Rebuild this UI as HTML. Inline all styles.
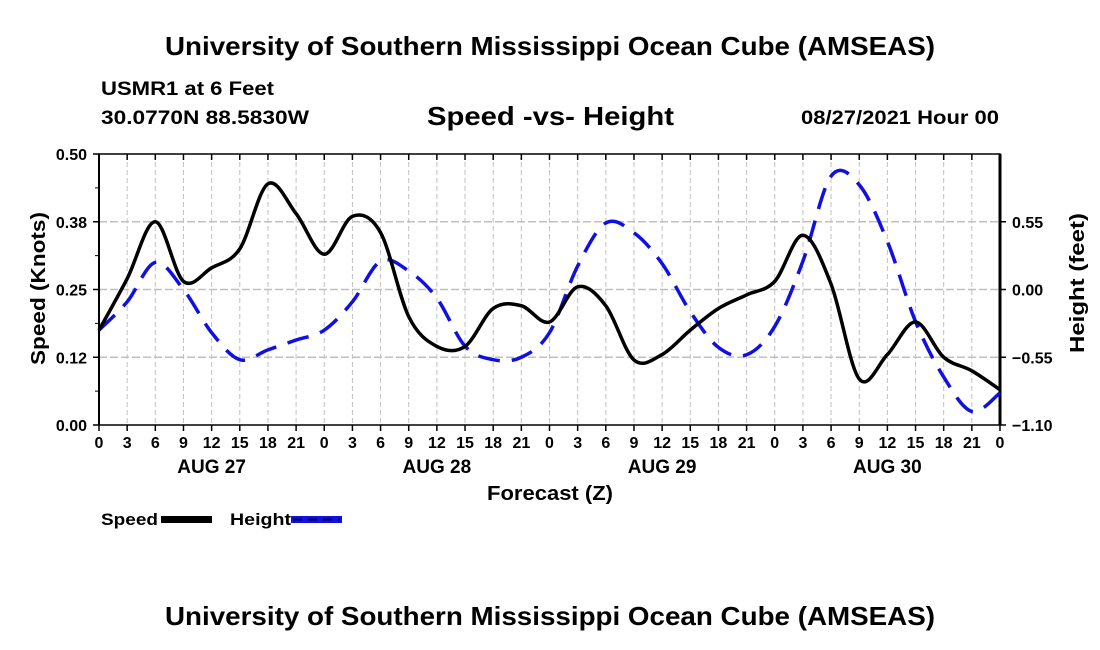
<!DOCTYPE html>
<html><head><meta charset="utf-8"><style>
body{margin:0;background:#fff;}
svg{display:block;font-family:"Liberation Sans",sans-serif;font-weight:bold;}
</style></head><body>
<svg id="c" width="1100" height="650" viewBox="0 0 1100 650">
<text x="165" y="55" font-size="26" textLength="770" lengthAdjust="spacingAndGlyphs">University of Southern Mississippi Ocean Cube (AMSEAS)</text>
<text x="101" y="95" font-size="19" textLength="173" lengthAdjust="spacingAndGlyphs">USMR1 at 6 Feet</text>
<text x="101" y="124" font-size="19" textLength="208" lengthAdjust="spacingAndGlyphs">30.0770N  88.5830W</text>
<text x="427" y="125" font-size="26" textLength="247" lengthAdjust="spacingAndGlyphs">Speed -vs- Height</text>
<text x="801" y="124" font-size="19" textLength="198" lengthAdjust="spacingAndGlyphs">08/27/2021 Hour 00</text>
<g id="grid"></g>
<g id="axes"></g>
<g id="series"></g>
<text x="487" y="500" font-size="20" textLength="126" lengthAdjust="spacingAndGlyphs">Forecast (Z)</text>
<text transform="translate(45,365) rotate(-90)" font-size="20" textLength="153" lengthAdjust="spacingAndGlyphs">Speed (Knots)</text>
<text transform="translate(1084,353) rotate(-90)" font-size="20" textLength="140" lengthAdjust="spacingAndGlyphs">Height (feet)</text>
<g>
<text x="101" y="525" font-size="17" textLength="57" lengthAdjust="spacingAndGlyphs">Speed</text>
<rect x="161" y="516" width="51" height="7" fill="#000"/>
<text x="230" y="525" font-size="17" textLength="61" lengthAdjust="spacingAndGlyphs">Height</text>
<rect x="291" y="516" width="51" height="7" fill="#1010e0"/>
<line x1="293" y1="519.5" x2="340" y2="519.5" stroke="#000050" stroke-width="2" stroke-dasharray="9,6"/>
</g>
<text x="165" y="625" font-size="26" textLength="770" lengthAdjust="spacingAndGlyphs">University of Southern Mississippi Ocean Cube (AMSEAS)</text>
</svg>
<script>
const hours=[0,3,6,9,12,15,18,21,24,27,30,33,36,39,42,45,48,51,54,57,60,63,66,69,72,75,78,81,84,87,90,93,96];
const speed=[0.175,0.27,0.375,0.265,0.29,0.325,0.445,0.39,0.315,0.385,0.355,0.20,0.145,0.145,0.215,0.22,0.19,0.255,0.22,0.12,0.13,0.175,0.215,0.24,0.265,0.35,0.26,0.085,0.13,0.19,0.125,0.10,0.065];
const height=[-0.33,-0.10,0.22,0.0,-0.35,-0.57,-0.49,-0.41,-0.33,-0.10,0.23,0.15,-0.07,-0.46,-0.57,-0.55,-0.35,0.19,0.54,0.46,0.21,-0.18,-0.47,-0.53,-0.30,0.23,0.92,0.85,0.39,-0.26,-0.71,-0.99,-0.84];
const xTickLabels=["0","3","6","9","12","15","18","21","0","3","6","9","12","15","18","21","0","3","6","9","12","15","18","21","0","3","6","9","12","15","18","21","0"];
const dayLabels=["AUG 27","AUG 28","AUG 29","AUG 30"];
const speedTicks=[0,0.125,0.25,0.375,0.5];
const speedTickLabels=["0.00","0.12","0.25","0.38","0.50"];
const heightTicks=[-1.1,-0.55,0,0.55];
const heightTickLabels=["\u22121.10","\u22120.55","0.00","0.55"];
const X0=99,X1=1000,Y0=425,Y1=154;
const xs=h=>X0+(X1-X0)*h/96;
const ys=v=>Y0-(Y0-Y1)*v/0.5;
const yh=v=>Y0-(Y0-Y1)*(v+1.1)/2.2;
const NS='http://www.w3.org/2000/svg';
function mk(p,t,a){const e=document.createElementNS(NS,t);for(const k in a)e.setAttribute(k,a[k]);p.appendChild(e);return e;}
const grid=document.getElementById('grid'),axes=document.getElementById('axes'),ser=document.getElementById('series');
hours.forEach((h,i)=>{
 const g=mk(grid,'line',{x1:xs(h),x2:xs(h),y1:Y1,y2:Y0,stroke:'#c0c0c0','stroke-width':1,'stroke-dasharray':'5,3'});
 
 
 const t=mk(axes,'line',{x1:xs(h),x2:xs(h),y1:Y0,y2:Y0+6,stroke:'#000','stroke-width':1.5});
 
 
 const t2=mk(axes,'line',{x1:xs(h),x2:xs(h),y1:Y1,y2:Y1+6,stroke:'#000','stroke-width':1.5});
 
 
 const l=mk(axes,'text',{x:xs(h),y:Y0+23,'font-size':16,'text-anchor':'middle'});l.textContent=xTickLabels[i];
 
 
});
dayLabels.forEach((d,i)=>{
 const l=mk(axes,'text',{x:xs(12+24*i),y:Y0+48,'font-size':19,'text-anchor':'middle'});l.textContent=d;
 
 
});
speedTicks.forEach((v,i)=>{
 if(i>0&&i<4){const g=mk(grid,'line',{x1:X0,x2:X1,y1:ys(v),y2:ys(v),stroke:'#c0c0c0','stroke-width':1.5,'stroke-dasharray':'8,3'});
 
 }
 const t=mk(axes,'line',{x1:X0-6,x2:X0,y1:ys(v),y2:ys(v),stroke:'#000','stroke-width':1.5});
 
 
 const l=mk(axes,'text',{x:X0-12,y:ys(v)+6,'font-size':16,'text-anchor':'end'});l.textContent=speedTickLabels[i];
 
 
 if(i<4){const m=mk(axes,'line',{x1:X0-4,x2:X0,y1:ys(v+0.0625),y2:ys(v+0.0625),stroke:'#000','stroke-width':1});
 
 }
});
heightTicks.forEach((v,i)=>{
 const t=mk(axes,'line',{x1:X1,x2:X1+6,y1:yh(v),y2:yh(v),stroke:'#000','stroke-width':1.5});
 
 
 const l=mk(axes,'text',{x:X1+12,y:yh(v)+6,'font-size':16});l.textContent=heightTickLabels[i];
 
 
});
const frame=mk(axes,'rect',{x:X0,y:Y1,width:X1-X0,height:Y0-Y1,fill:'none',stroke:'#000','stroke-width':1.5});


const ra=mk(axes,'line',{x1:X1,x2:X1,y1:Y1,y2:Y0,stroke:'#000','stroke-width':3});


const la=mk(axes,'line',{x1:X0,x2:X0,y1:Y1,y2:Y0,stroke:'#000','stroke-width':2});


function smooth(pts){let d='M'+pts[0][0]+','+pts[0][1];
 for(let i=0;i<pts.length-1;i++){const p0=pts[Math.max(0,i-1)],p1=pts[i],p2=pts[i+1],p3=pts[Math.min(pts.length-1,i+2)];
 const c1=[p1[0]+(p2[0]-p0[0])/6,p1[1]+(p2[1]-p0[1])/6],c2=[p2[0]-(p3[0]-p1[0])/6,p2[1]-(p3[1]-p1[1])/6];
 d+=' C'+c1.join(',')+' '+c2.join(',')+' '+p2.join(',');}return d;}
const hp=mk(ser,'path',{d:smooth(hours.map((h,i)=>[xs(h),yh(height[i])])),fill:'none',stroke:'#1010e0','stroke-width':3.5,'stroke-dasharray':'22,12'});


const sp=mk(ser,'path',{d:smooth(hours.map((h,i)=>[xs(h),ys(speed[i])])),fill:'none',stroke:'#000','stroke-width':3.5});


</script>
</body></html>
